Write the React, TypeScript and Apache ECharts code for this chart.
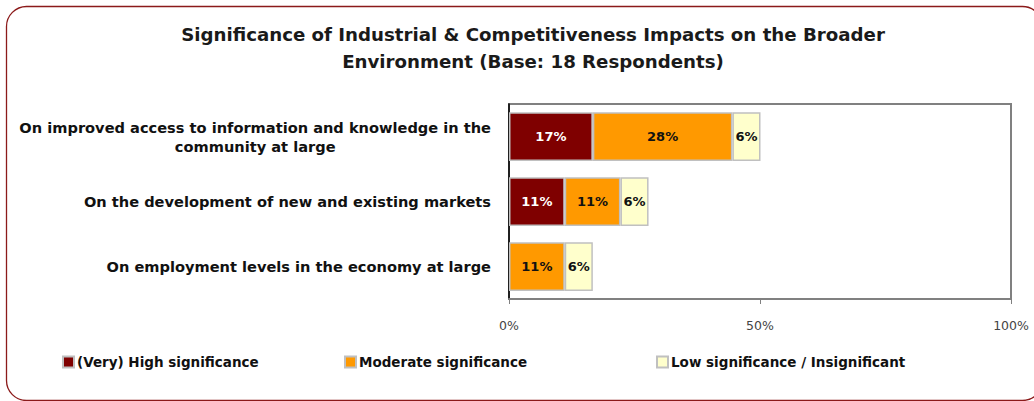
import React, { useEffect, useRef } from "react";
import * as echarts from "echarts";

const categories = [
  "On improved access to information and knowledge in the\ncommunity at large",
  "On the development of new and existing markets",
  "On employment levels in the economy at large",
];
const seriesNames = [
  "(Very) High significance",
  "Moderate significance",
  "Low significance / Insignificant",
];
const highValues = [16.7, 11.1, 0];
const moderateValues = [27.8, 11.1, 11.1];
const lowValues = [5.6, 5.6, 5.6];
const xTicks = [0, 50, 100];

const titleText =
  "Significance of Industrial & Competitiveness Impacts on the Broader\nEnvironment (Base: 18 Respondents)";

const FONT = "DejaVu Sans";

export default function App() {
  const ref = useRef<HTMLDivElement>(null);
  useEffect(() => {
    if (!ref.current) return;
    const chart = echarts.init(ref.current, undefined, { renderer: "svg" });
    const colors = ["#7f0000", "#ff9900", "#ffffcc"];
    const labelColors = ["#ffffff", "#111111", "#111111"];
    const values = [highValues, moderateValues, lowValues];
    const series = seriesNames.map((name, i) => ({
      name,
      type: "bar",
      stack: "total",
      barCategoryGap: "25%",
      data: values[i].map((v) => (v > 0 ? v : null)),
      itemStyle: { color: colors[i], borderColor: "#c0c0c0", borderWidth: 1.5 },
      label: {
        show: true,
        position: "inside",
        color: labelColors[i],
        fontFamily: FONT,
        fontWeight: "bold",
        fontSize: 13,
        formatter: (p: any) => (p.value > 0 ? Math.round(p.value) + "%" : ""),
      },
    }));
    const legendLefts = [57, 339, 651];
    chart.setOption({
      animation: false,
      textStyle: { fontFamily: FONT },
      title: {
        text: titleText,
        left: 528,
        textAlign: "center",
        top: 16,
        textStyle: {
          fontFamily: FONT,
          fontWeight: "bold",
          fontSize: 18.2,
          lineHeight: 27,
          color: "#1a1a1a",
        },
      },
      legend: seriesNames.map((name, i) => ({
        data: [name],
        left: legendLefts[i],
        top: 350,
        itemWidth: 11,
        itemHeight: 11,
        itemGap: 4,
        icon: "rect",
        textStyle: {
          fontFamily: FONT,
          fontWeight: "bold",
          fontSize: 13.5,
          color: "#111111",
          padding: [0, 0, 0, -2],
        },
      })),
      grid: {
        left: 509,
        right: 23,
        top: 104,
        bottom: 102,
        show: true,
        borderColor: "#808080",
        borderWidth: 2,
        containLabel: false,
      },
      xAxis: {
        type: "value",
        min: xTicks[0],
        max: xTicks[xTicks.length - 1],
        interval: 50,
        axisLine: { show: true, lineStyle: { color: "#808080", width: 2 } },
        axisTick: { show: true, length: 5, lineStyle: { color: "#808080" } },
        splitLine: { show: false },
        axisLabel: {
          formatter: "{value}%",
          color: "#444444",
          fontFamily: FONT,
          fontSize: 12.5,
          margin: 20,
        },
      },
      yAxis: {
        type: "category",
        inverse: true,
        data: categories,
        axisLine: { show: true, lineStyle: { color: "#000000", width: 1.5 } },
        axisTick: { show: false },
        axisLabel: {
          margin: 18,
          fontFamily: FONT,
          fontWeight: "bold",
          fontSize: 14.6,
          color: "#111111",
          formatter: (v: string) =>
            v
              .split("\n")
              .map((l) => "{c|" + l + "}")
              .join("\n"),
          rich: {
            c: {
              align: "center",
              fontFamily: FONT,
              fontWeight: "bold",
              fontSize: 14.6,
              lineHeight: 19,
              color: "#111111",
            },
          },
        },
      },
      graphic: [
        {
          type: "rect",
          shape: { x: 6.5, y: 6.5, width: 1036, height: 394, r: 20 },
          style: { fill: "none", stroke: "#8b1a1a", lineWidth: 1.3 },
          silent: true,
        },
      ],
      series,
    });
    return () => chart.dispose();
  }, []);
  return (
    <div
      ref={ref}
      style={{ position: "absolute", left: 0, top: 0, width: 1034, height: 401 }}
    />
  );
}
